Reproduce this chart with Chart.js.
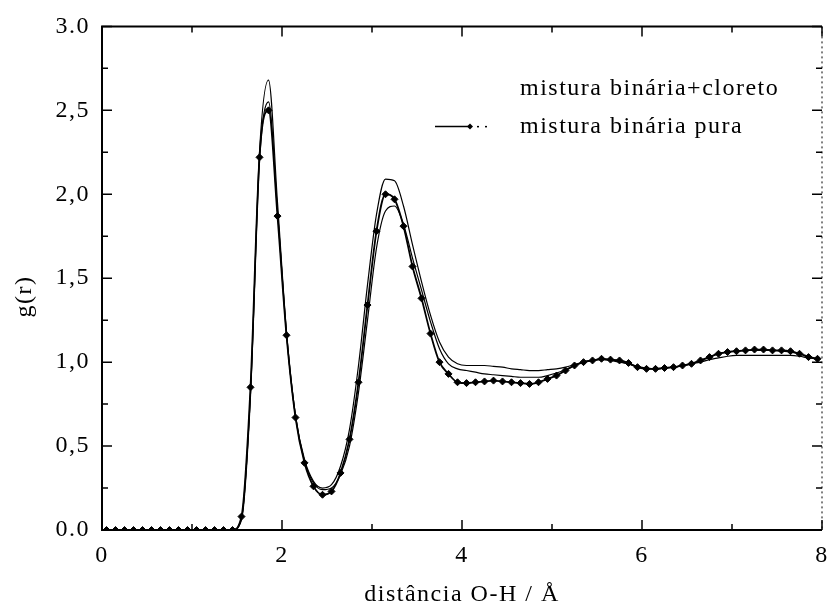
<!DOCTYPE html>
<html>
<head>
<meta charset="utf-8">
<script src="https://cdn.jsdelivr.net/npm/chart.js@4"></script>
<style>
  html, body { margin: 0; padding: 0; background: #fff; }
  #wrap { width: 839px; height: 612px; }
</style>
</head>
<body>
<div id="wrap"><canvas id="grChart" width="839" height="612"></canvas></div>
<script>
// distance grid (Å) shared by the three curves
const distancia = [
  0.05, 0.15, 0.25, 0.35, 0.45, 0.55, 0.65, 0.75, 0.85, 0.95,
  1.05, 1.15, 1.25, 1.35, 1.45, 1.55, 1.65, 1.75, 1.85, 1.95,
  2.05, 2.15, 2.25, 2.35, 2.45, 2.55, 2.65, 2.75, 2.85, 2.95,
  3.05, 3.15, 3.25, 3.35, 3.45, 3.55, 3.65, 3.75, 3.85, 3.95,
  4.05, 4.15, 4.25, 4.35, 4.45, 4.55, 4.65, 4.75, 4.85, 4.95,
  5.05, 5.15, 5.25, 5.35, 5.45, 5.55, 5.65, 5.75, 5.85, 5.95,
  6.05, 6.15, 6.25, 6.35, 6.45, 6.55, 6.65, 6.75, 6.85, 6.95,
  7.05, 7.15, 7.25, 7.35, 7.45, 7.55, 7.65, 7.75, 7.85, 7.95
];

// mistura binária pura (line with diamonds)
const gPura = [
  0, 0, 0, 0, 0, 0, 0, 0, 0, 0,
  0, 0, 0, 0, 0, 0.08, 0.85, 2.22, 2.50, 1.87,
  1.16, 0.67, 0.40, 0.26, 0.21, 0.23, 0.34, 0.54, 0.88, 1.34,
  1.78, 2.00, 1.97, 1.81, 1.57, 1.38, 1.17, 1.00, 0.93, 0.88,
  0.875, 0.88, 0.885, 0.89, 0.885, 0.88, 0.875, 0.87, 0.88, 0.90,
  0.92, 0.95, 0.98, 1.00, 1.01, 1.02, 1.015, 1.01, 0.995, 0.97,
  0.96, 0.96, 0.965, 0.97, 0.98, 0.99, 1.01, 1.03, 1.05, 1.06,
  1.065, 1.07, 1.075, 1.075, 1.07, 1.07, 1.065, 1.05, 1.03, 1.02
];

// mistura binária + cloreto (two thin solid curves)
const gCloretoA = [
  0, 0, 0, 0, 0, 0, 0, 0, 0, 0,
  0, 0, 0, 0, 0, 0.06, 0.80, 2.25, 2.68, 1.95,
  1.18, 0.68, 0.42, 0.29, 0.25, 0.27, 0.38, 0.60, 0.98, 1.46,
  1.88, 2.09, 2.08, 1.93, 1.70, 1.48, 1.28, 1.12, 1.03, 0.99,
  0.98, 0.98, 0.98, 0.975, 0.97, 0.96, 0.955, 0.95, 0.95, 0.955,
  0.96, 0.97, 0.985, 1.00, 1.01, 1.015, 1.01, 1.00, 0.99, 0.975,
  0.965, 0.96, 0.965, 0.97, 0.98, 0.99, 1.00, 1.015, 1.025, 1.035,
  1.04, 1.04, 1.04, 1.04, 1.04, 1.04, 1.04, 1.035, 1.025, 1.02
];
const gCloretoB = [
  0, 0, 0, 0, 0, 0, 0, 0, 0, 0,
  0, 0, 0, 0, 0, 0.07, 0.82, 2.20, 2.55, 1.90,
  1.17, 0.68, 0.41, 0.28, 0.24, 0.25, 0.33, 0.50, 0.82, 1.25,
  1.68, 1.90, 1.93, 1.82, 1.62, 1.43, 1.24, 1.08, 0.99, 0.96,
  0.95, 0.94, 0.93, 0.925, 0.92, 0.915, 0.91, 0.91, 0.91, 0.92,
  0.935, 0.955, 0.98, 1.00, 1.01, 1.02, 1.015, 1.005, 0.99, 0.97,
  0.96, 0.96, 0.965, 0.97, 0.98, 0.99, 1.01, 1.03, 1.05, 1.06,
  1.065, 1.07, 1.07, 1.07, 1.07, 1.065, 1.06, 1.05, 1.035, 1.02
];

// axis labels as printed
const xTicks = [0, 2, 4, 6, 8];
const xTickLabels = ['0', '2', '4', '6', '8'];
const yTicks = [0, 0.5, 1, 1.5, 2, 2.5, 3];
const yTickLabels = ['0.0', '0,5', '1,0', '1,5', '2,0', '2,5', '3.0'];
const yTitle = 'g(r)';

const FONT = "'Liberation Serif', 'Times New Roman', serif";

function toPoints(ys) {
  return distancia.map((d, i) => ({ x: d, y: ys[i] }));
}

function labelFor(value, ticks, labels) {
  const i = ticks.findIndex(t => Math.abs(t - value) < 1e-6);
  return i >= 0 ? labels[i] : '';
}

// the scanned lettering is wider than plain Times, so space it out a bit
const wideText = {
  id: 'wideText',
  beforeDraw(chart) {
    chart.ctx.letterSpacing = '1.5px';
  }
};

// box frame with inward major/minor ticks
const frameTicks = {
  id: 'frameTicks',
  afterDatasetsDraw(chart) {
    const { ctx, chartArea: a, scales: { x, y } } = chart;
    ctx.save();
    ctx.strokeStyle = '#000';
    ctx.lineWidth = 2;
    ctx.beginPath();
    ctx.moveTo(a.right, a.top);
    ctx.lineTo(a.left, a.top);
    ctx.lineTo(a.left, a.bottom);
    ctx.lineTo(a.right, a.bottom);
    ctx.stroke();

    ctx.lineWidth = 1;
    ctx.setLineDash([2, 3]);
    ctx.beginPath();
    ctx.moveTo(a.right, a.top);
    ctx.lineTo(a.right, a.bottom);
    ctx.stroke();
    ctx.setLineDash([]);

    ctx.lineWidth = 1.5;
    ctx.beginPath();
    x.ticks.forEach(t => {
      const px = x.getPixelForValue(t.value);
      const len = xTicks.includes(t.value) ? 10 : 6;
      ctx.moveTo(px, a.bottom);
      ctx.lineTo(px, a.bottom - len);
      ctx.moveTo(px, a.top);
      ctx.lineTo(px, a.top + len);
    });
    y.ticks.forEach(t => {
      const py = y.getPixelForValue(t.value);
      const major = yTicks.some(v => Math.abs(v - t.value) < 1e-6);
      const len = major ? 10 : 6;
      ctx.moveTo(a.left, py);
      ctx.lineTo(a.left + len, py);
      ctx.moveTo(a.right, py);
      ctx.lineTo(a.right - len, py);
    });
    ctx.stroke();
    ctx.restore();
  }
};

// legend inside the plot (upper right) and the rotated y title
const innerLegend = {
  id: 'innerLegend',
  afterDraw(chart) {
    const { ctx, chartArea: a } = chart;
    const ds = chart.data.datasets;
    const tx = a.left + 418;
    const row1 = a.top + 62;
    const row2 = a.top + 100;
    ctx.save();
    ctx.fillStyle = '#000';
    ctx.font = '24px ' + FONT;
    ctx.letterSpacing = '1.5px';
    ctx.textBaseline = 'middle';
    ctx.textAlign = 'left';
    ctx.fillText(ds[0].label, tx, row1);
    ctx.fillText(ds[2].label, tx, row2);

    // sample for the pure mixture: line, diamond, dots
    ctx.strokeStyle = '#000';
    ctx.lineWidth = 1.5;
    ctx.beginPath();
    ctx.moveTo(tx - 85, row2);
    ctx.lineTo(tx - 50, row2);
    ctx.stroke();
    ctx.beginPath();
    ctx.moveTo(tx - 50, row2 - 3);
    ctx.lineTo(tx - 47, row2);
    ctx.lineTo(tx - 50, row2 + 3);
    ctx.lineTo(tx - 53, row2);
    ctx.closePath();
    ctx.fill();
    ctx.fillRect(tx - 43, row2 - 0.5, 2, 1.5);
    ctx.fillRect(tx - 35, row2 - 0.5, 2, 1.5);

    // y title
    ctx.translate(25, a.top + 270);
    ctx.rotate(-Math.PI / 2);
    ctx.textAlign = 'center';
    ctx.fillText(yTitle, 0, 0);
    ctx.restore();
  }
};

const ctx = document.getElementById('grChart');
new Chart(ctx, {
  type: 'line',
  data: {
    datasets: [
      {
        label: 'mistura binária+cloreto',
        data: toPoints(gCloretoA),
        borderColor: '#000',
        borderWidth: 1.2,
        pointRadius: 0,
        cubicInterpolationMode: 'monotone',
        fill: false
      },
      {
        label: 'mistura binária+cloreto',
        data: toPoints(gCloretoB),
        borderColor: '#000',
        borderWidth: 1.2,
        pointRadius: 0,
        cubicInterpolationMode: 'monotone',
        fill: false
      },
      {
        label: 'mistura binária pura',
        data: toPoints(gPura),
        borderColor: '#000',
        backgroundColor: '#000',
        borderWidth: 1.8,
        pointStyle: 'rectRot',
        pointRadius: 3.5,
        pointBorderWidth: 1,
        cubicInterpolationMode: 'monotone',
        fill: false
      }
    ]
  },
  options: {
    responsive: false,
    animation: false,
    layout: { padding: { top: 23, right: 9, left: 0, bottom: 0 } },
    plugins: {
      legend: { display: false },
      tooltip: { enabled: false }
    },
    scales: {
      x: {
        type: 'linear',
        min: 0,
        max: 8,
        afterFit(scale) { scale.height = 82; },
        grid: { display: false, drawTicks: false },
        border: { display: false },
        ticks: {
          stepSize: 1,
          autoSkip: false,
          maxRotation: 0,
          padding: 11,
          color: '#000',
          font: { family: FONT, size: 24 },
          callback: v => labelFor(v, xTicks, xTickLabels)
        },
        title: {
          display: true,
          text: 'distância O-H / Å',
          color: '#000',
          font: { family: FONT, size: 24 },
          padding: { top: 0, bottom: 3 }
        }
      },
      y: {
        min: 0,
        max: 3,
        afterFit(scale) { scale.width = 102; },
        grid: { display: false, drawTicks: false },
        border: { display: false },
        ticks: {
          stepSize: 0.25,
          autoSkip: false,
          padding: 12,
          color: '#000',
          font: { family: FONT, size: 24 },
          callback: v => labelFor(v, yTicks, yTickLabels)
        }
      }
    }
  },
  plugins: [wideText, frameTicks, innerLegend]
});
</script>
</body>
</html>
